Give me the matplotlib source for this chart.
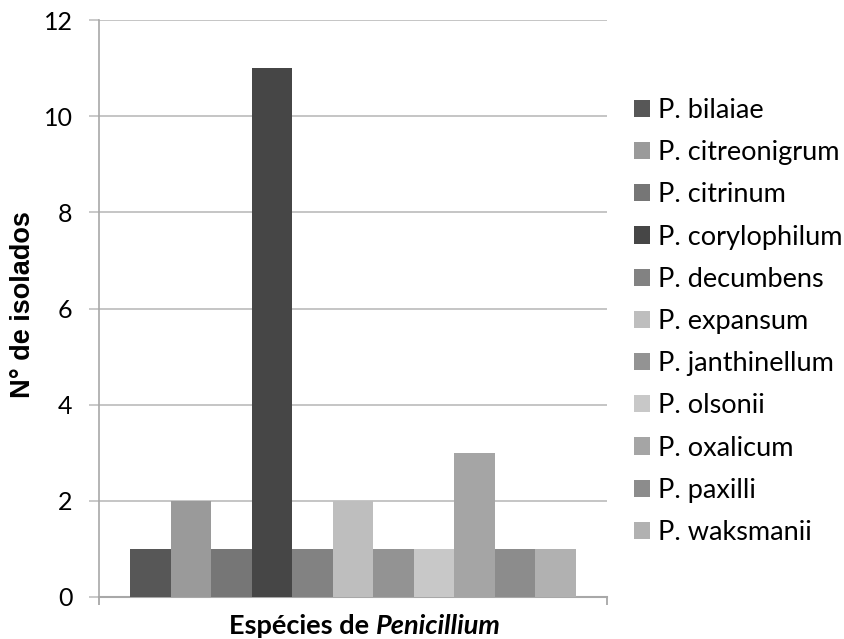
import matplotlib
matplotlib.use("Agg")
import matplotlib.pyplot as plt
from matplotlib.patches import Patch

species = ["P. bilaiae", "P. citreonigrum", "P. citrinum", "P. corylophilum",
           "P. decumbens", "P. expansum", "P. janthinellum", "P. olsonii",
           "P. oxalicum", "P. paxilli", "P. waksmanii"]
counts = [1, 2, 1, 11, 1, 2, 1, 1, 3, 1, 1]
shades = ["#575757", "#9a9a9a", "#767676", "#464646", "#828282", "#bebebe",
          "#939393", "#c8c8c8", "#a5a5a5", "#8c8c8c", "#b1b1b1"]
y_ticks = [0, 2, 4, 6, 8, 10, 12]

plt.rcParams["font.family"] = ["Lato", "DejaVu Sans"]

W, H = 845, 639
fig = plt.figure(figsize=(W / 100, H / 100), dpi=100)
ax = fig.add_axes([99 / W, 1 - 597 / H, 508 / W, 577 / H])

n = len(species)
group = 0.878
w = group / n
for i, (c, col) in enumerate(zip(counts, shades)):
    ax.bar(-group / 2 + (i + 0.5) * w, c, width=w, color=col, edgecolor="none",
           zorder=3)

ax.set_xlim(-0.5, 0.5)
ax.set_ylim(0, 12)
ax.set_yticks(y_ticks)
ax.set_yticklabels([str(t) for t in y_ticks], fontsize=18)
ax.set_xticks([-0.5, 0.5])
ax.set_xticklabels([])
ax.tick_params(axis="x", length=6, color="#a0a0a0", width=1.2, direction="out")
ax.tick_params(axis="y", length=7, color="#c0c0c0", width=1.2, pad=12)
ax.yaxis.grid(True, color="#c0c0c0", linewidth=1.3, zorder=0)
for s in ["top", "right"]:
    ax.spines[s].set_visible(False)
ax.spines["left"].set_color("#a8a8a8")
ax.spines["bottom"].set_color("#a8a8a8")
ax.spines["left"].set_linewidth(1.2)
ax.spines["bottom"].set_linewidth(1.5)

# y axis title
fig.text(23 / W, 1 - 305 / H, "N° de isolados", rotation=90, ha="center",
         va="center", fontsize=19.5, fontweight="bold",
         family=["Liberation Sans", "DejaVu Sans"])

# x axis title: regular bold part followed by the bold italic genus name
fig.canvas.draw()
r = fig.canvas.get_renderer()
t1 = fig.text(0, 1 - 626 / H, "Espécies de ", ha="left", va="center",
              fontsize=19.5, fontweight="bold")
t2 = fig.text(0, 1 - 626 / H, "Penicillium", ha="left", va="center",
              fontsize=19.5, fontweight="bold", style="italic")
w1 = t1.get_window_extent(r).width
w2 = t2.get_window_extent(r).width
x0 = 365 - (w1 + w2) / 2
t1.set_x(x0 / W)
t2.set_x((x0 + w1) / W)

handles = [Patch(facecolor=c, edgecolor="none") for c in shades]
fig.legend(handles, species, loc="upper left",
           bbox_to_anchor=(634 / W, 1 - 98 / H),
           frameon=False, fontsize=19.5, handlelength=0.6, handleheight=0.6,
           handletextpad=0.3, labelspacing=0.635, borderaxespad=0, borderpad=0)

fig.savefig("out.png", dpi=100)
